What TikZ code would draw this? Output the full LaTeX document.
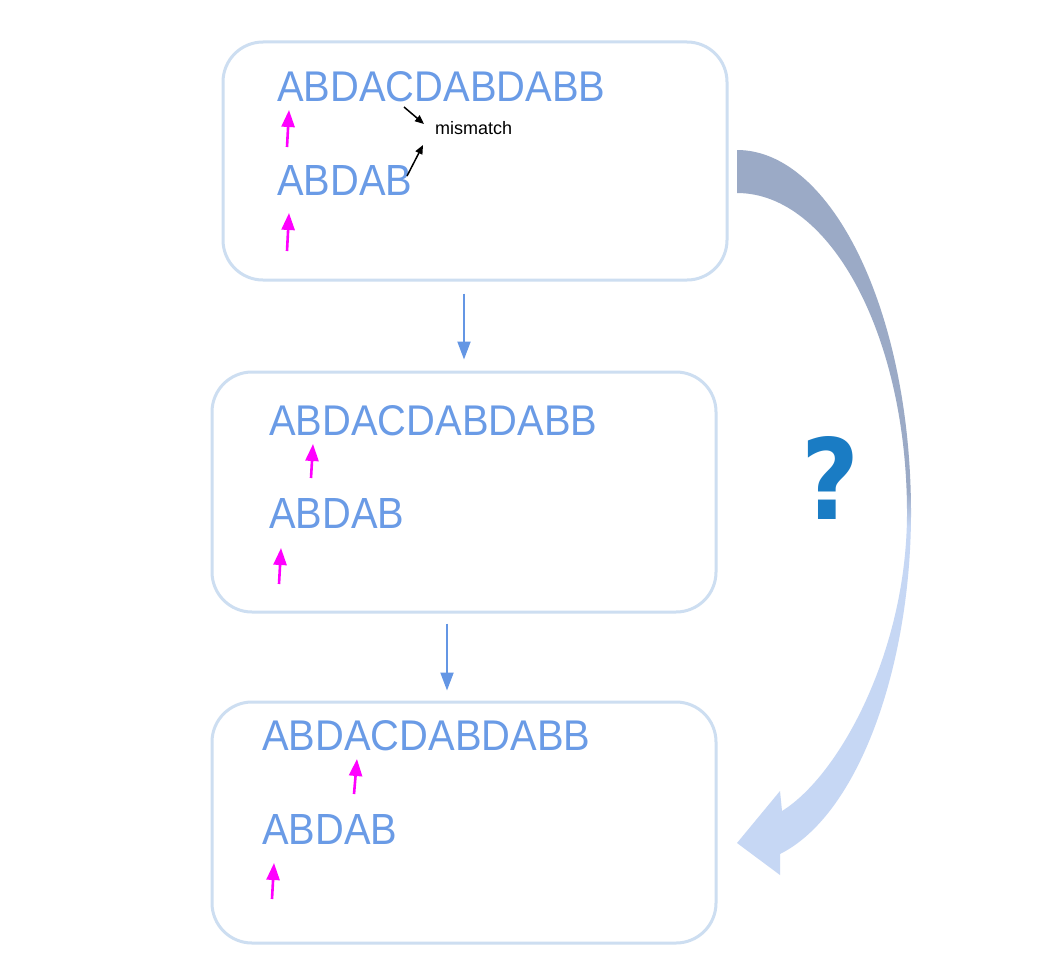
\documentclass[tikz,border=0pt]{standalone}
\usepackage{fontspec}
\setmainfont{Liberation Sans}
\newfontfamily\qfont{DejaVu Sans}
\usetikzlibrary{arrows.meta}
\definecolor{seqblue}{RGB}{106,155,230}
\definecolor{boxline}{RGB}{205,222,241}
\definecolor{arrblue}{RGB}{100,150,228}
\definecolor{qblue}{RGB}{26,124,196}
\definecolor{ptrmag}{RGB}{255,0,255}
\definecolor{bigtop}{RGB}{155,170,198}
\definecolor{bigbot}{RGB}{198,215,244}
\pgfdeclareverticalshading{bigarrowshade}{100bp}{color(0bp)=(bigbot); color(49bp)=(bigbot); color(51.5bp)=(bigtop); color(100bp)=(bigtop)}
\newcommand\seqlong{\resizebox{328pt}{30pt}{ABDACDABDABB}}
\newcommand\seqshort{\resizebox{135pt}{30pt}{ABDAB}}
\tikzset{
  stagebox/.style={draw=boxline, line width=3pt, rounded corners=40pt, minimum width=504pt, inner sep=0pt},
  seqtext/.style={text=seqblue, anchor=base west, inner sep=0pt},
  ptr/.style={draw=ptrmag, line width=2.6pt, -{Triangle[length=17pt,width=13pt]}},
  downarr/.style={draw=arrblue, line width=2pt, -{Triangle[length=18pt,width=13pt]}},
  blackarr/.style={draw=black, line width=1.5pt, -{Triangle[length=9pt,width=7.5pt]}}
}
\begin{document}
\begin{tikzpicture}[x=1pt,y=-1pt]
\useasboundingbox[fill=white] (0,0) rectangle (1048,979);

% stage boxes
\node[stagebox, minimum height=238pt] (b1) at (475,161) {};
\node[stagebox, minimum height=240pt] (b2) at (464,492) {};
\node[stagebox, minimum height=241pt] (b3) at (464,822.5) {};

% connectors between stages
\draw[downarr, shorten <=12pt, shorten >=11pt] (b1.south -| b2.north) -- (b2.north);
\draw[downarr, shorten <=10pt, shorten >=10pt] ([xshift=-17pt]b2.south) -- ([xshift=-17pt]b3.north);

% stage 1
\node[seqtext] (s1) at (277,102) {\seqlong};
\node[seqtext] (p1) at (277,195) {\seqshort};
\draw[ptr] (287,147) -- (289,110);
\draw[ptr] (287,251) -- (289,213);
\node[anchor=base west, inner sep=0pt, font=\fontsize{18}{20}\selectfont] (mm) at (435,135) {mismatch};
\coordinate (mmA) at (424,124);
\coordinate (mmB) at (423,145);
\draw[blackarr] (404,107) -- (mmA);
\draw[blackarr] (407,176) -- (mmB);

% stage 2
\node[seqtext] (s2) at (269,435) {\seqlong};
\node[seqtext] (p2) at (269,528) {\seqshort};
\draw[ptr] (311,478) -- (313,444);
\draw[ptr] (279,584) -- (281,548);

% stage 3
\node[seqtext] (s3) at (262,750) {\seqlong};
\node[seqtext] (p3) at (262,844) {\seqshort};
\draw[ptr] (354,794) -- (357,759);
\draw[ptr] (272,899) -- (274,863);

% big curved arrow
\shade[shading=bigarrowshade] (737,150) .. controls (832,150) and (911,313) .. (911,513)
  .. controls (911,663) and (860,814) .. (780,854) -- (780,875) -- (737,843) -- (780,791) -- (782,811)
  .. controls (840,775) and (907,650) .. (907,513)
  .. controls (907,337) and (831,193) .. (737,193) -- cycle;

% question mark
\node[text=qblue, inner sep=0pt] (q) at (830,477.5) {\resizebox{58pt}{83pt}{\qfont\bfseries ?}};
\end{tikzpicture}
\end{document}
